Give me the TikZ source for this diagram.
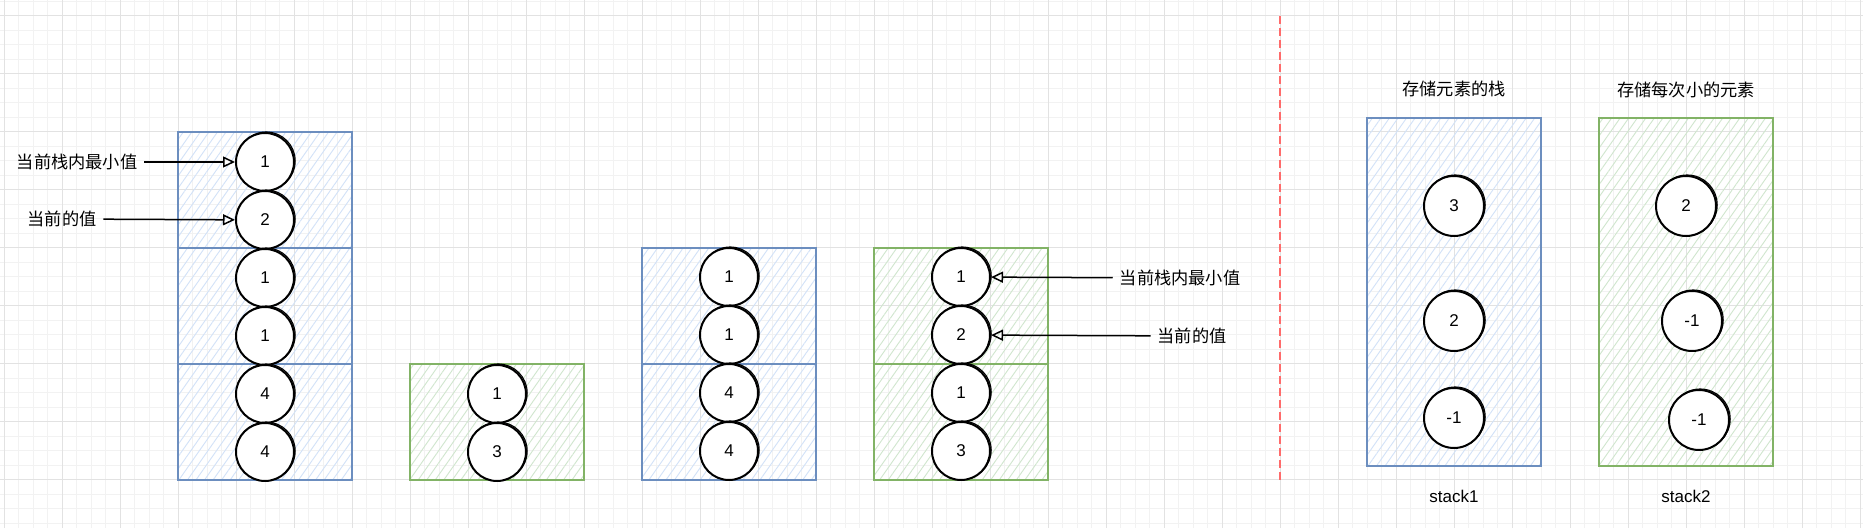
\documentclass[tikz,border=0pt]{standalone}
\usepackage{fontspec}
\setmainfont{Liberation Sans}
\newfontfamily\cjk{Noto Sans CJK SC}
\usepackage{tikz}
\usetikzlibrary{
    arrows.meta,
    patterns.meta
}
\definecolor{bluestroke}{HTML}{6C8EBF}
\definecolor{bluehatch}{HTML}{D2E2F8}
\definecolor{greenstroke}{HTML}{82B366}
\definecolor{greenhatch}{HTML}{D0E6CE}
\definecolor{gridminor}{HTML}{F2F2F2}
\definecolor{gridmajor}{HTML}{E2E2E2}
\definecolor{cutline}{HTML}{FF6B6B}
\newcommand{\cnfont}{\cjk\fontsize{8.6}{10}\selectfont}
\newcommand{\numfont}{\fontsize{8.5}{10}\selectfont}
\tikzset{
    stackbox/.style={draw=#1stroke, line width=1pt,
        pattern={Lines[angle=55,distance=3.5pt,line width=0.45pt]},
        pattern color=#1hatch},
    ball/.style={circle, draw, line width=1pt, fill=white, inner sep=0pt,
        minimum size=29pt, font=\numfont,
        preaction={draw, line width=0.55pt,
            transform canvas={shift={(0.6pt,0.5pt)}}}},
    bigball/.style={ball, minimum size=30pt},
    note/.style={font=\cnfont},
    arr/.style={-{Triangle[open,length=6pt,width=5.5pt]}, line width=0.75pt}
}

\begin{document}
\begin{tikzpicture}[x=0.5pt,y=-0.5pt]

\useasboundingbox (0,0) rectangle (1863,528);
\fill[white] (0,0) rectangle (1863,528);

\foreach \i in {0,...,128}
    \draw[gridminor,line width=0.5pt] ({4+14.5*\i},0) -- ++(0,528);
\foreach \j in {0,...,36}
    \draw[gridminor,line width=0.5pt] (0,{1.5+14.5*\j}) -- ++(1863,0);
\foreach \i in {0,...,32}
    \draw[gridmajor,line width=0.5pt] ({4+58*\i},0) -- ++(0,528);
\foreach \j in {0,...,8}
    \draw[gridmajor,line width=0.5pt] (0,{16+58*\j}) -- ++(1863,0);

\foreach \t in {132.5,248.5,364.5}
    \draw[stackbox=blue] (178,\t) rectangle ++(174,116);
\draw[stackbox=green] (410,364.5) rectangle ++(174,116);
\foreach \t in {248.5,364.5}
    \draw[stackbox=blue] (642,\t) rectangle ++(174,116);
\foreach \t in {248.5,364.5}
    \draw[stackbox=green] (874,\t) rectangle ++(174,116);
\draw[stackbox=blue] (1367,118) rectangle ++(174,348);
\draw[stackbox=green] (1599,118) rectangle ++(174,348);

\foreach \v [count=\i] in {1,2,1,1,4,4}
    \node[ball] (A\i) at (265,{104+58*\i}) {\v};
\foreach \v [count=\i] in {1,3}
    \node[ball] (B\i) at (497,{336+58*\i}) {\v};
\foreach \v [count=\i] in {1,1,4,4}
    \node[ball] (C\i) at (729,{219+58*\i}) {\v};
\foreach \v [count=\i] in {1,2,1,3}
    \node[ball] (D\i) at (961,{219+58*\i}) {\v};

\node[note] (L1) at (77,162) {当前栈内最小值};
\node[note] (L2) at (62,219) {当前的值};
\node[note] (R1) at (1180,278) {当前栈内最小值};
\node[note] (R2) at (1192,336) {当前的值};

\draw[arr] (L1) -- (A1);
\draw[arr] (L2) -- (A2);
\draw[arr] (R1) -- (D1);
\draw[arr] (R2) -- (D2);

\draw[cutline,line width=0.8pt,dash pattern=on 4pt off 2pt] (1280,16) -- (1280,481);

\node[bigball] (S1) at (1454,206) {3};
\node[bigball] (S2) at (1454,321) {2};
\node[bigball] (S3) at (1454,418) {-1};
\node[bigball] (T1) at (1686,206) {2};
\node[bigball] (T2) at (1692,321) {-1};
\node[bigball] (T3) at (1699,420) {-1};

\node[note] (H1) at (1454,89) {存储元素的栈};
\node[note] (H2) at (1686,90) {存储每次小的元素};
\node[font=\numfont] (N1) at (1454,496) {stack1};
\node[font=\numfont] (N2) at (1686,496) {stack2};

\end{tikzpicture}
\end{document}
